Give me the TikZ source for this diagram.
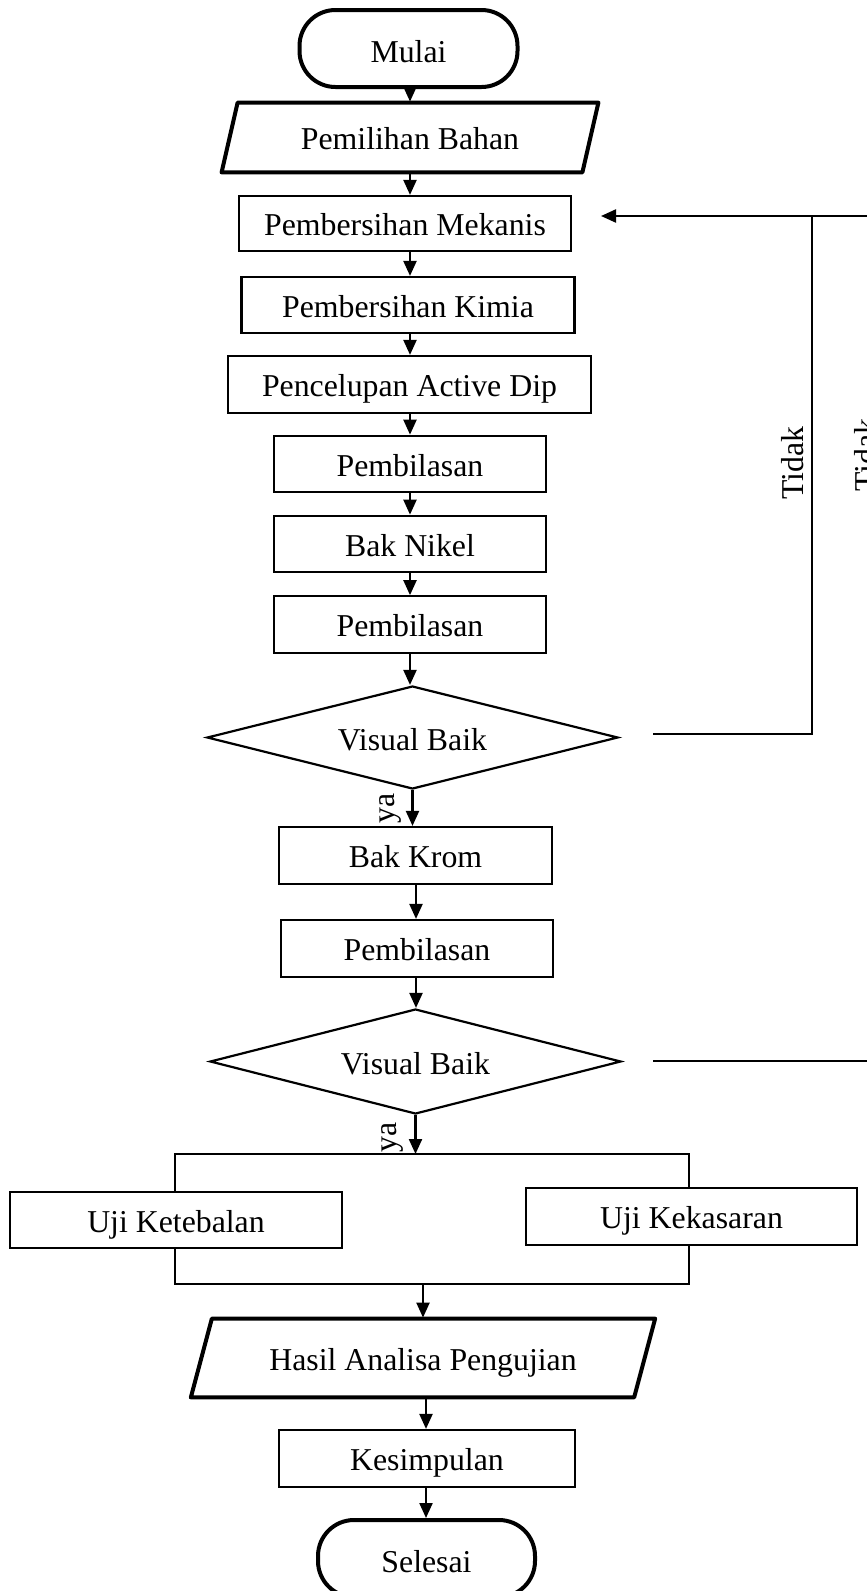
\documentclass[tikz,border=0pt]{standalone}
\usepackage{fontspec}
\setmainfont{Liberation Serif}
\usetikzlibrary{arrows.meta,shapes.geometric,calc}
\begin{document}
\begin{tikzpicture}[x=0.5pt,y=-0.5pt,
  font=\fontsize{15.9}{19}\selectfont,
  txt/.style={text height=15pt, text depth=3pt},
  box/.style={draw, line width=1.1pt, inner sep=0pt, txt},
  term/.style={draw, line width=2pt, rounded corners=18pt, inner sep=0pt, text height=17.2pt, text depth=3pt},
  io/.style={inner sep=0pt, txt},
  dec/.style={draw, diamond, aspect=4, line width=1.1pt, inner sep=0pt, text height=16.4pt, text depth=3pt},
  arr/.style={-{Triangle[length=7.5pt,width=6.5pt]}, line width=1.1pt},
  conn/.style={line width=1.1pt},
  lab/.style={rotate=90, inner sep=0pt}]
\useasboundingbox (0,0) rectangle (867,1591);
\clip (0,0) rectangle (867,1591);
\fill[white] (0,0) rectangle (867,1591);

% column coordinates
\coordinate (colA) at (410,0);
\coordinate (colB) at (416,0);
\coordinate (colC) at (426,0);

% nodes
\node[term, minimum width=109pt, minimum height=38.5pt] (mulai) at (408.5,48.5) {Mulai};
\node[io, minimum width=180pt, minimum height=34.5pt] (bahan) at (410,137.5) {Pemilihan Bahan};
\draw[line width=2pt, line join=round]
  ($(bahan.south west)+(-8,0)$) -- ($(bahan.north west)+(8,0)$) --
  ($(bahan.north east)+(8,0)$) -- ($(bahan.south east)+(-8,0)$) -- cycle;
\node[box, minimum width=166pt, minimum height=27.5pt] (mekanis) at (405,223.5) {Pembersihan Mekanis};
\node[box, minimum width=166.5pt, minimum height=28pt] (kimia) at (408,305) {Pembersihan Kimia};
\node[box, minimum width=181.5pt, minimum height=28.5pt] (active) at (409.5,384.5) {Pencelupan Active Dip};
\node[box, minimum width=136pt, minimum height=28.25pt] (bil1) at (410,464) {Pembilasan};
\node[box, minimum width=136pt, minimum height=28.25pt] (nikel) at (410,544) {Bak Nikel};
\node[box, minimum width=136pt, minimum height=28.25pt] (bil2) at (410,624.5) {Pembilasan};
\node[dec, minimum width=205.5pt, minimum height=51.5pt] (dia1) at (412.5,737.5) {Visual Baik};
\node[box, minimum width=136.5pt, minimum height=28.5pt] (krom) at (415.5,855.5) {Bak Krom};
\node[box, minimum width=136pt, minimum height=28.5pt] (bil3) at (417,948.5) {Pembilasan};
\node[dec, minimum width=205.5pt, minimum height=52.5pt] (dia2) at (415.5,1061.5) {Visual Baik};
\node[box, line width=1.3pt, minimum width=166pt, minimum height=28pt] (uji1) at (176,1220) {Uji Ketebalan};
\node[box, line width=1.3pt, minimum width=165.5pt, minimum height=28.5pt] (uji2) at (691.5,1216.5) {Uji Kekasaran};
\node[io, minimum width=221.25pt, minimum height=39pt] (hasil) at (423,1358) {Hasil Analisa Pengujian};
\draw[line width=2pt, line join=round]
  ($(hasil.south west)+(-10.5,0)$) -- ($(hasil.north west)+(10.5,0)$) --
  ($(hasil.north east)+(10.5,0)$) -- ($(hasil.south east)+(-10.5,0)$) -- cycle;
\node[box, minimum width=148pt, minimum height=28.5pt] (kesimpulan) at (427,1458.5) {Kesimpulan};
\node[term, minimum width=108.5pt, minimum height=38.5pt] (selesai) at (426.5,1558.5) {Selesai};

% labels
\node[lab] (ya1) at (390,808) {ya};
\node[lab] (ya2) at (392,1137) {ya};
\node[lab] (tidak1) at (793,463) {Tidak};
\node[lab] (tidak2) at (866,455) {Tidak};

% main flow
\draw[arr] (mulai.south -| colA) -- ($(bahan.north -| colA)+(0,-1)$);
\draw[arr] ($(bahan.south -| colA)+(0,1)$) -- (mekanis.north -| colA);
\draw[arr] (mekanis.south -| colA) -- (kimia.north -| colA);
\draw[arr] (kimia.south -| colA) -- (active.north -| colA);
\draw[arr] (active.south -| colA) -- (bil1.north -| colA);
\draw[arr] (bil1.south -| colA) -- (nikel.north -| colA);
\draw[arr] (nikel.south -| colA) -- (bil2.north -| colA);
\draw[arr] (bil2.south -| colA) -- (dia1.north -| colA);
\draw[arr] (dia1.south) -- (dia1.south |- krom.north);
\draw[arr] (krom.south -| colB) -- (bil3.north -| colB);
\draw[arr] (bil3.south -| colB) -- (dia2.north -| colB);

% split to tests
\coordinate (splitL) at (175,1154);
\coordinate (splitR) at (689,1154);
\coordinate (botL) at (175,1284);
\coordinate (botR) at (689,1284);
\coordinate (join) at (423,1284);
\draw[arr] (dia2.south) -- (dia2.south |- splitL);
\draw[conn] (uji1.north -| splitL) -- (splitL) -- (splitR) -- (uji2.north -| splitR);
\draw[conn] (uji1.south -| botL) -- (botL) -- (botR) -- (uji2.south -| botR);
\draw[arr] (join) -- ($(hasil.north)+(0,-1)$);
\draw[arr] ($(hasil.south -| colC)+(0,1)$) -- (kesimpulan.north -| colC);
\draw[arr] (kesimpulan.south -| colC) -- (selesai.north -| colC);

% feedback loops
\coordinate (t1s) at (653,734);
\coordinate (t1c) at (812,734);
\coordinate (t1t) at (812,216);
\coordinate (tip) at (601,216);
\coordinate (t2s) at (653,1061);
\coordinate (t2c) at (885,1061);
\coordinate (t2t) at (885,216);
\draw[conn] (t1s) -- (t1c) -- (t1t);
\draw[arr] (t2s) -- (t2c) -- (t2t) -- (tip);
\end{tikzpicture}
\end{document}
